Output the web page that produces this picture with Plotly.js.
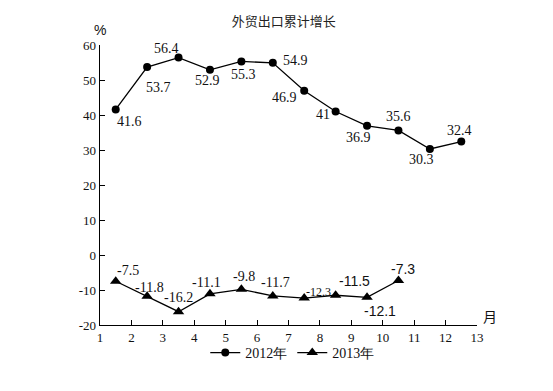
<!DOCTYPE html>
<html><head><meta charset="utf-8">
<script src="https://cdn.plot.ly/plotly-3.0.1.min.js"></script>
<style>html,body{margin:0;padding:0;background:#fff}#chart{width:553px;height:391px}</style>
</head><body><div id="chart"></div>
<script>
// Data
const months2012 = [1.5,2.5,3.5,4.5,5.5,6.5,7.5,8.5,9.5,10.5,11.5,12.5];
const values2012 = [41.6,53.7,56.4,52.9,55.3,54.9,46.9,41,36.9,35.6,30.3,32.4];
const labels2012 = ["41.6","53.7","56.4","52.9","55.3","54.9","46.9","41","36.9","35.6","30.3","32.4"];
const months2013 = [1.5,2.5,3.5,4.5,5.5,6.5,7.5,8.5,9.5,10.5];
const values2013 = [-7.5,-11.8,-16.2,-11.1,-9.8,-11.7,-12.3,-11.5,-12.1,-7.3];
const labels2013 = ["-7.5","-11.8","-16.2","-11.1","-9.8","-11.7","-12.3","-11.5","-12.1","-7.3"];
const xTicks = [1,2,3,4,5,6,7,8,9,10,11,12,13];
const yTicks = [-20,-10,0,10,20,30,40,50,60];

// label placement (styling)
const off2012 = [[14,-12],[11,-20],[-12,9],[-2,-11],[2,-13],[23,2],[-20,-7],[-13,-3],[-9,-12],[0,14],[-8,-11],[-2,11]];
const off2013 = [[12,11],[2,9],[0,14],[-3,11],[3,13],[3,13],[14,6],[19,14],[13,-14],[5,12]];
const font2013 = [0,0,0,0,0,0,1,2,2,2];

const serif = "Liberation Serif, Times New Roman, serif";
const sans = "Liberation Sans, Arial, sans-serif";

const ann = [];
values2012.forEach((v,i)=>{
  ann.push({x:months2012[i], y:v, xref:'x', yref:'y', text:labels2012[i], showarrow:false,
    xshift:off2012[i][0], yshift:off2012[i][1], font:{family:serif,size:14,color:'#111'}});
});
values2013.forEach((v,i)=>{
  const f = font2013[i]===0 ? {family:serif,size:14,color:'#111'} :
            font2013[i]===1 ? {family:serif,size:12,color:'#111'} : {family:sans,size:14,color:'#111'};
  ann.push({x:months2013[i], y:v, xref:'x', yref:'y', text:labels2013[i], showarrow:false,
    xshift:off2013[i][0], yshift:off2013[i][1], font:f});
});
ann.push({x:0, y:1.055, xref:'paper', yref:'paper', xanchor:'center', yanchor:'middle', text:'%', showarrow:false, font:{family:sans,size:14,color:'#111'}});
ann.push({x:13, y:-20, xref:'x', yref:'y', text:'月', showarrow:false, xshift:13, yshift:9, font:{family:'Noto Sans CJK SC',size:14,color:'#111'}});

const traces = [
  {x:months2012, y:values2012, name:'2012年', type:'scatter', mode:'lines+markers',
   line:{color:'#000',width:1.3}, marker:{symbol:'circle',size:8,color:'#000'}},
  {x:months2013, y:values2013, name:'2013年', type:'scatter', mode:'lines+markers',
   line:{color:'#000',width:1.3}, marker:{symbol:'triangle-up',size:10,color:'#000'}}
];

const layout = {
  width:553, height:391,
  margin:{l:100, r:76, t:45, b:66},
  paper_bgcolor:'#fff', plot_bgcolor:'#fff',
  title:{text:'外贸出口累计增长', x:0.513, xanchor:'center', y:0.945, yanchor:'middle',
    font:{family:'Noto Sans CJK SC, serif', size:13, color:'#222'}},
  showlegend:true,
  legend:{orientation:'h', x:0.51, xanchor:'center', y:-0.1, yanchor:'middle', bgcolor:'rgba(0,0,0,0)',
    font:{family:serif, size:14, color:'#111'}, itemwidth:30, tracegroupgap:0},
  xaxis:{range:[1,13], tickvals:xTicks, ticktext:xTicks.map(String), showgrid:false, zeroline:false,
    showline:true, linecolor:'#000', linewidth:1.3, ticks:'inside', ticklen:5, tickcolor:'#000',
    tickfont:{family:serif,size:13,color:'#111'}, fixedrange:true},
  yaxis:{range:[-20,60], tickvals:yTicks, ticktext:yTicks.map(String), showgrid:false, zeroline:false,
    showline:true, linecolor:'#000', linewidth:1.3, ticks:'inside', ticklen:5, tickcolor:'#000',
    tickfont:{family:serif,size:13,color:'#111'}, fixedrange:true},
  annotations:ann
};
Plotly.newPlot('chart', traces, layout, {displayModeBar:false, staticPlot:true});
</script></body></html>
